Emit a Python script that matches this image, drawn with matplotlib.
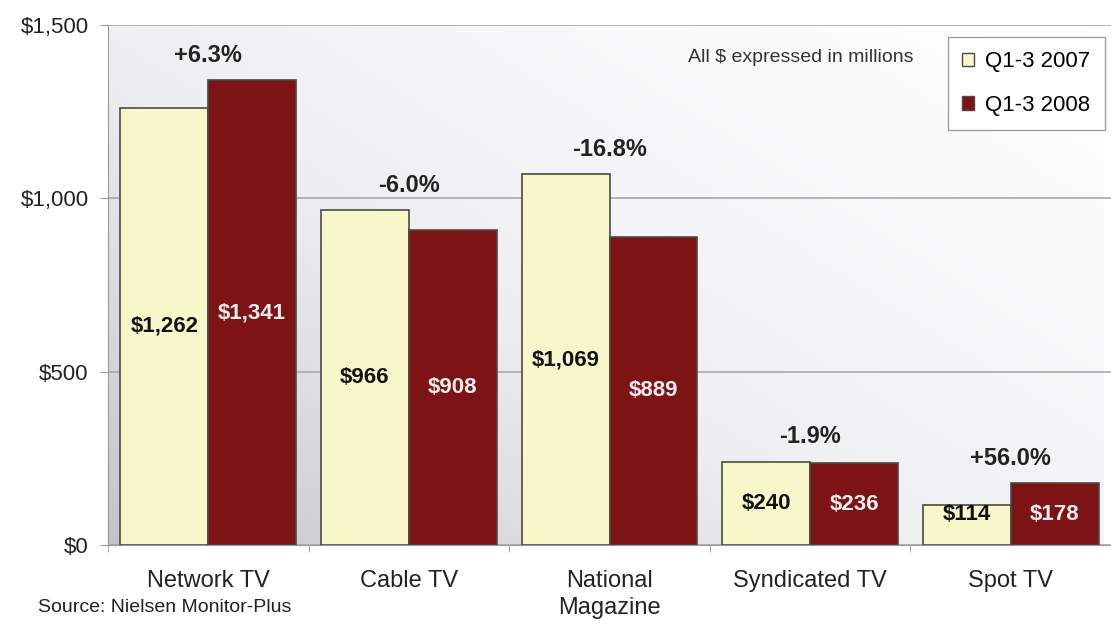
import numpy as np
import matplotlib
matplotlib.use("Agg")
import matplotlib.pyplot as plt
from matplotlib.colors import LinearSegmentedColormap
from matplotlib.patches import Patch

categories = ["Network TV", "Cable TV", "National\nMagazine", "Syndicated TV", "Spot TV"]
spend_2007 = [1262, 966, 1069, 240, 114]
spend_2008 = [1341, 908, 889, 236, 178]
changes = ["+6.3%", "-6.0%", "-16.8%", "-1.9%", "+56.0%"]
yticks = [0, 500, 1000, 1500]
ytick_labels = ["$0", "$500", "$1,000", "$1,500"]
series_names = ["Q1-3 2007", "Q1-3 2008"]

plt.rcParams["font.family"] = ["Liberation Sans", "DejaVu Sans"]

W, H = 1111, 624
fig = plt.figure(figsize=(W / 100, H / 100), dpi=100)
ax = fig.add_axes([108 / W, 1 - 545 / H, (W - 108) / W, 520 / H])

x = np.arange(len(categories))
w = 0.438
xmin, xmax = -0.5, 4.5 - 7.5 / 202
ax.set_xlim(xmin, xmax)
ax.set_ylim(0, 1500)

# diagonal gradient background: grey lower-left fading to white upper-right
gx, gy = np.meshgrid(np.linspace(0, 1, 300), np.linspace(0, 1, 200))
g = np.clip(0.55 * (1 - gx) + 0.45 * (1 - gy), 0, 1) ** 1.3
bg_cmap = LinearSegmentedColormap.from_list("bg", ["#ffffff", "#eceef0", "#c2c4c7"])
ax.imshow(g, cmap=bg_cmap, extent=[xmin, xmax, 0, 1500], origin="lower",
          aspect="auto", zorder=0, vmin=0, vmax=1)

ax.set_yticks(yticks)
ax.set_yticklabels(ytick_labels, fontsize=16, color="#222222")
ax.yaxis.grid(True, color="#a8a8a8", linewidth=1.2, zorder=1)
ax.set_axisbelow(True)

ax.set_xticks(np.arange(len(categories) + 1) - 0.5, minor=True)
ax.set_xticks(x)
ax.set_xticklabels(categories, fontsize=17, color="#222222", linespacing=1.3)
ax.tick_params(axis="x", which="major", length=0, pad=18)
ax.tick_params(axis="x", which="minor", length=5, color="#999999")
ax.tick_params(axis="y", length=6, color="#999999", pad=8)

for s in ["top", "right"]:
    ax.spines[s].set_visible(False)
ax.spines["left"].set_color("#999999")
ax.spines["bottom"].set_color("#999999")

edge = "#4a4a44"
ax.bar(x - w / 2, spend_2007, w, color="#f8f7c9", edgecolor=edge, linewidth=1.2, zorder=3)
ax.bar(x + w / 2, spend_2008, w, color="#7d1315", edgecolor=edge, linewidth=1.2, zorder=3)

for i in range(len(categories)):
    v1, v2 = spend_2007[i], spend_2008[i]
    ax.text(x[i] - w / 2, max(v1 / 2, 88), f"${v1:,}", ha="center", va="center",
            fontsize=16, fontweight="bold", color="#111111", zorder=4)
    ax.text(x[i] + w / 2, max(v2 / 2, 88), f"${v2:,}", ha="center", va="center",
            fontsize=16, fontweight="bold", color="#f4eeee", zorder=4)
    ax.text(x[i], max(v1, v2) + 72, changes[i], ha="center", va="center",
            fontsize=17, fontweight="bold", color="#222222", zorder=4)

fig.text(913 / W, 1 - 58 / H, "All $ expressed in millions", ha="right", va="center",
         fontsize=14, color="#333333", zorder=4)

handles = [Patch(facecolor="#f8f7c9", edgecolor=edge), Patch(facecolor="#7d1315", edgecolor=edge)]
leg = ax.legend(handles, series_names, loc="upper right",
                bbox_to_anchor=(1105 / W, 1 - 37 / H), bbox_transform=fig.transFigure,
                fontsize=16, frameon=True, fancybox=False, handlelength=0.55, handleheight=0.55,
                handletextpad=0.5, borderpad=0.65, labelspacing=1.0, borderaxespad=0)
leg.get_frame().set_edgecolor("#888888")
leg.get_frame().set_facecolor("#ffffff")
leg.get_frame().set_linewidth(1.0)
leg.set_zorder(5)

fig.text(38 / W, 1 - 608 / H, "Source: Nielsen Monitor-Plus", ha="left", va="center",
         fontsize=14, color="#222222")

fig.savefig("out.png", dpi=100)
